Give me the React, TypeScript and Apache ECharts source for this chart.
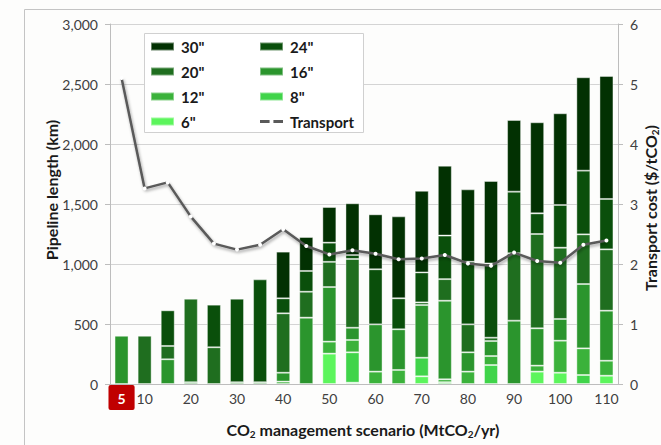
import React, { useEffect, useRef } from "react";
import * as echarts from "echarts";

// CO2 management scenarios (MtCO2/yr)
const categories = ["5", "10", "15", "20", "25", "30", "35", "40", "45", "50", "55", "60", "65", "70", "75", "80", "85", "90", "95", "100", "105", "110"];

// Pipeline length by diameter (km)
const len30 = [0, 0, 0, 0, 0, 0, 0, 389, 283, 297, 431, 458, 683, 680, 582, 603, 687, 597, 759, 764, 778, 1025];
const len24 = [0, 0, 297, 0, 355, 696, 857, 125, 173, 160, 33, 459, 258, 250, 363, 522, 619, 514, 172, 356, 531, 420];
const len20 = [0, 402, 111, 696, 306, 0, 0, 495, 216, 210, 573, 0, 0, 22, 180, 233, 28, 561, 786, 594, 414, 511];
const len16 = [402, 0, 206, 15, 0, 15, 15, 74, 553, 455, 102, 394, 339, 439, 655, 161, 125, 528, 311, 181, 536, 417];
const len12 = [0, 0, 0, 0, 0, 0, 0, 20, 0, 100, 103, 103, 117, 0, 24, 103, 75, 0, 50, 267, 222, 125];
const len8 = [0, 0, 0, 0, 0, 0, 0, 0, 0, 0, 253, 0, 0, 155, 15, 0, 158, 0, 0, 0, 75, 0];
const len6 = [0, 0, 0, 0, 0, 0, 0, 0, 0, 253, 11, 0, 0, 64, 0, 0, 0, 0, 103, 94, 0, 69];

// Transport cost ($/tCO2)
const transport = [5.1, 3.26, 3.36, 2.79, 2.34, 2.24, 2.32, 2.58, 2.3, 2.16, 2.23, 2.17, 2.08, 2.09, 2.15, 2.01, 1.97, 2.19, 2.05, 2.02, 2.32, 2.39];

const leftTicks = [0, 500, 1000, 1500, 2000, 2500, 3000];

const FONT = "Lato, 'Noto Sans', sans-serif";

const diameters = [
  { name: '6"', data: len6, color: "#5cf55c" },
  { name: '8"', data: len8, color: "#40d44a" },
  { name: '12"', data: len12, color: "#3bb23b" },
  { name: '16"', data: len16, color: "#2b952d" },
  { name: '20"', data: len20, color: "#1f6e1f" },
  { name: '24"', data: len24, color: "#0a4f0b" },
  { name: '30"', data: len30, color: "#023102" },
];

export default function App() {
  const ref = useRef<HTMLDivElement>(null);

  useEffect(() => {
    if (!ref.current) return;
    const chart = echarts.init(ref.current, undefined, { renderer: "svg" });

    const barSeries = diameters.map((d) => ({
      name: d.name,
      type: "bar",
      stack: "len",
      barWidth: 14,
      yAxisIndex: 0,
      itemStyle: {
        color: d.color,
        borderColor: "rgba(255,255,255,0.4)",
        borderWidth: 1,
      },
      data: d.data.map((v) => (v === 0 ? null : v)),
    }));

    const legendText = {
      fontFamily: FONT,
      fontSize: 15,
      fontWeight: "bold",
      color: "#1a1a1a",
      lineHeight: 15,
      padding: [0, 0, 0, 2],
    };
    const dashIcon = "path://M0,0H10V3H0Z M14,0H24V3H14Z";

    // subscript "2" sits lower by placing a short token at the bottom of a tall line
    const titleRich = {
      b: { fontFamily: FONT, fontSize: 16, fontWeight: "bold", fill: "#1a1a1a", lineHeight: 20 },
      s: { fontFamily: FONT, fontSize: 10, fontWeight: "bold", fill: "#1a1a1a", lineHeight: 8, verticalAlign: "bottom" },
    };

    chart.setOption({
      animation: false,
      backgroundColor: "#fdfdfc",
      textStyle: { fontFamily: FONT },
      grid: { left: 110, right: 43, top: 24, bottom: 61 },
      legend: [
        {
          left: 150,
          top: 39,
          orient: "vertical",
          padding: 0,
          itemWidth: 23,
          itemHeight: 8,
          itemGap: 10,
          z: 6,
          textStyle: legendText,
          data: [
            { name: '30"', icon: "rect" },
            { name: '20"', icon: "rect" },
            { name: '12"', icon: "rect" },
            { name: '6"', icon: "rect" },
          ],
        },
        {
          left: 259,
          top: 39,
          orient: "vertical",
          padding: 0,
          itemWidth: 23,
          itemHeight: 8,
          itemGap: 10,
          z: 6,
          textStyle: legendText,
          data: [
            { name: '24"', icon: "rect" },
            { name: '16"', icon: "rect" },
            { name: '8"', icon: "rect" },
            { name: "Transport", icon: dashIcon, itemStyle: { color: "#5a5a5a" } },
          ],
        },
      ],
      xAxis: {
        type: "category",
        data: categories,
        boundaryGap: true,
        axisLine: { lineStyle: { color: "#bdbdbd" } },
        axisTick: { interval: 0, length: 4, lineStyle: { color: "#bdbdbd" } },
        axisLabel: {
          interval: (idx: number) => idx === 0 || idx % 2 === 1,
          margin: 6,
          formatter: (v: string, idx: number) => (idx === 0 ? `{r|${v}}` : `{n|${v}}`),
          rich: {
            n: { fontFamily: FONT, fontSize: 14, color: "#404040", lineHeight: 15, padding: [6, 0, 5, 0] },
            r: {
              fontFamily: FONT,
              fontSize: 14,
              fontWeight: "bold",
              color: "#ffffff",
              lineHeight: 15,
              backgroundColor: "#c00000",
              borderRadius: 2,
              padding: [6, 9, 5, 9],
            },
          },
        },
      },
      yAxis: [
        {
          type: "value",
          min: 0,
          max: 3000,
          interval: 500,
          axisLine: { show: true, lineStyle: { color: "#bdbdbd" } },
          axisTick: { show: true, length: 5, lineStyle: { color: "#bdbdbd" } },
          axisLabel: {
            margin: 12,
            fontFamily: FONT,
            fontSize: 14,
            color: "#404040",
            formatter: (v: number) => (leftTicks.includes(v) ? v.toLocaleString("en-US") : ""),
          },
          splitLine: { show: true, lineStyle: { color: "#d4d4d4" } },
        },
        {
          type: "value",
          min: 0,
          max: 6,
          interval: 1,
          position: "right",
          axisLine: { show: true, lineStyle: { color: "#bdbdbd" } },
          axisTick: { show: true, length: 5, lineStyle: { color: "#bdbdbd" } },
          axisLabel: { margin: 12, fontFamily: FONT, fontSize: 14, color: "#404040" },
          splitLine: { show: false },
        },
      ],
      graphic: [
        {
          type: "rect",
          z: -10,
          silent: true,
          shape: { x: 24.5, y: 9.5, width: 700, height: 500 },
          style: { fill: "none", stroke: "#c4c4c4", lineWidth: 1 },
        },
        {
          type: "rect",
          z: 5,
          silent: true,
          shape: { x: 144.5, y: 33.5, width: 219, height: 99 },
          style: { fill: "#ffffff", stroke: "#d0d0d0", lineWidth: 1 },
        },
        {
          type: "text",
          x: 51,
          y: 190,
          rotation: Math.PI / 2,
          style: {
            text: "Pipeline length (km)",
            fontFamily: FONT,
            fontSize: 16,
            fontWeight: "bold",
            fill: "#1a1a1a",
            align: "center",
            verticalAlign: "middle",
          },
        },
        {
          type: "text",
          x: 650,
          y: 208,
          rotation: Math.PI / 2,
          style: {
            text: "{b|Transport cost ($/tCO}{s|2}{b|)}",
            align: "center",
            verticalAlign: "middle",
            rich: titleRich,
          },
        },
        {
          type: "text",
          x: 363,
          y: 429,
          style: {
            text: "{b|CO}{s|2}{b| management scenario (MtCO}{s|2}{b|/yr)}",
            align: "center",
            verticalAlign: "middle",
            rich: titleRich,
          },
        },
      ],
      series: [
        ...barSeries,
        {
          name: "Transport",
          type: "line",
          yAxisIndex: 1,
          z: 4,
          data: transport,
          symbol: "circle",
          symbolSize: 4,
          itemStyle: { color: "#ffffff", borderWidth: 0 },
          lineStyle: {
            color: "#5a5a5a",
            width: 2.5,
            shadowColor: "rgba(0,0,0,0.35)",
            shadowBlur: 3,
            shadowOffsetX: 1,
            shadowOffsetY: 2,
          },
        },
      ],
    });

    return () => chart.dispose();
  }, []);

  return (
    <div
      ref={ref}
      style={{ position: "absolute", left: 0, top: 0, width: 661, height: 445 }}
    />
  );
}
